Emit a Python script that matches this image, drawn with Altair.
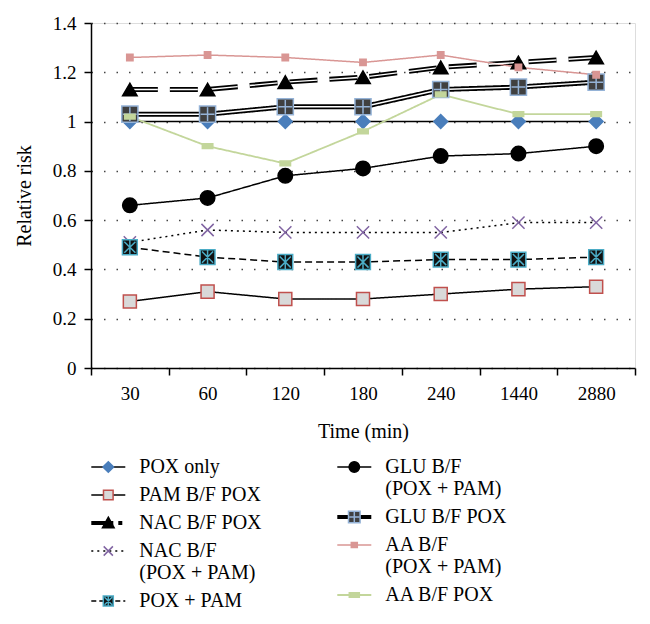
import altair as alt
import pandas as pd

# ---------------- data ----------------
times = ["30", "60", "120", "180", "240", "1440", "2880"]

pox_only = [1.00, 1.00, 1.00, 1.00, 1.00, 1.00, 1.00]
pam_bf_pox = [0.27, 0.31, 0.28, 0.28, 0.30, 0.32, 0.33]
nac_bf_pox = [1.13, 1.13, 1.16, 1.18, 1.22, 1.24, 1.26]
nac_bf_pox_pam = [0.51, 0.56, 0.55, 0.55, 0.55, 0.59, 0.59]
pox_pam = [0.49, 0.45, 0.43, 0.43, 0.44, 0.44, 0.45]
glu_bf_pox_pam = [0.66, 0.69, 0.78, 0.81, 0.86, 0.87, 0.90]
glu_bf_pox = [1.03, 1.03, 1.06, 1.06, 1.13, 1.14, 1.16]
aa_bf_pox_pam = [1.26, 1.27, 1.26, 1.24, 1.27, 1.22, 1.19]
aa_bf_pox = [1.02, 0.90, 0.83, 0.96, 1.11, 1.03, 1.03]

left_series = ["POX only", "PAM B/F POX", "NAC B/F POX", "NAC B/F|(POX + PAM)", "POX + PAM"]
right_series = ["GLU B/F|(POX + PAM)", "GLU B/F POX", "AA B/F|(POX + PAM)", "AA B/F POX"]
all_series = left_series + right_series
values = [pox_only, pam_bf_pox, nac_bf_pox, nac_bf_pox_pam, pox_pam,
          glu_bf_pox_pam, glu_bf_pox, aa_bf_pox_pam, aa_bf_pox]

rows = []
for s, vals in zip(all_series, values):
    for t, v in zip(times, vals):
        rows.append({"series": s, "time": t, "value": v})
df = pd.DataFrame(rows)

# ---------------- styles ----------------
PINK = "#d99694"
GREEN = "#c3d69b"
BLUE = "#4a7ebb"
line_colors = ["black", "black", "black", "black", "black", "black", "black", PINK, GREEN]
line_dashes = [[1, 0], [1, 0], [28, 12], [2, 4], [7, 4], [1, 0], [1, 0], [1, 0], [1, 0]]
line_widths = [1.5, 1.5, 5, 1.5, 1.5, 1.5, 5, 1.5, 1.8]

X_PATH = "M-1,-1L1,1M-1,1L1,-1"
AST_PATH = "M-1,-1H1V1H-1Z M-0.75,-0.75L0.75,0.75 M-0.75,0.75L0.75,-0.75 M0,-0.9V0.9"
PLUS_PATH = "M-1,-1H1V1H-1Z M0,-0.85V0.85 M-0.85,0H0.85"
RECT_PATH = "M-1,-0.45H1V0.45H-1Z"
marker_shapes = ["diamond", "square", "triangle-up", X_PATH, AST_PATH,
                 "circle", PLUS_PATH, "square", RECT_PATH]
marker_sizes = [190, 170, 210, 150, 220, 210, 260, 40, 110]
marker_fills = [BLUE, "#d9d9d9", "black", "transparent", "#111111",
                "black", "#404040", PINK, GREEN]
marker_strokes = [BLUE, "#c0504d", "black", "#8064a2", "#4bacc6",
                  "black", "#95b3d7", PINK, GREEN]

# ---------------- legend symbols ----------------
# all legend symbols share one nominal size so the line legend and the marker
# legend drawn over it have identical layouts; shapes are sized via their paths
LEG_SIZE = 130
LEG_HALF = (LEG_SIZE ** 0.5) / 2
LINE_HALF_LEN = 17.0


def u(v):
    return f"{v / LEG_HALF:.4f}"


line_path = f"M{u(-LINE_HALF_LEN)},0H{u(LINE_HALF_LEN)}"
leg_line_dashes = [[1, 0], [1, 0], [22, 5, 4, 5], [2, 4], [5, 3], [1, 0], [1, 0], [1, 0], [1, 0]]
leg_line_widths = [1.5, 1.5, 4, 1.5, 1.5, 1.5, 4, 1.5, 2.2]


def diamond(r):
    return f"M0,{u(-r)}L{u(r)},0L0,{u(r)}L{u(-r)},0Z"


def rect(w, h):
    return f"M{u(-w)},{u(-h)}H{u(w)}V{u(h)}H{u(-w)}Z"


def triangle(r):
    return f"M0,{u(-r)}L{u(r)},{u(r * 0.8)}L{u(-r)},{u(r * 0.8)}Z"


def xcross(r):
    return f"M{u(-r)},{u(-r)}L{u(r)},{u(r)}M{u(-r)},{u(r)}L{u(r)},{u(-r)}"


def circle(r):
    return (f"M{u(-r)},0A{u(r)},{u(r)} 0 1,1 {u(r)},0"
            f"A{u(r)},{u(r)} 0 1,1 {u(-r)},0Z")


def asterisk(r):
    a = r * 0.75
    return (rect(r, r) + f" M{u(-a)},{u(-a)}L{u(a)},{u(a)}"
            f" M{u(-a)},{u(a)}L{u(a)},{u(-a)} M0,{u(-r * 0.9)}V{u(r * 0.9)}")


def plus(r):
    a = r * 0.85
    return rect(r, r) + f" M0,{u(-a)}V{u(a)} M{u(-a)},0H{u(a)}"


leg_marker_shapes = [
    diamond(5.3),
    rect(4.8, 4.8),
    triangle(5.8),
    xcross(4.6),
    asterisk(5.0),
    circle(5.2),
    plus(5.8),
    rect(3.0, 2.5),
    rect(5.0, 2.3),
]

FONT = "Liberation Serif"

# ---------------- base ----------------
base = alt.Chart(df).encode(
    x=alt.X(
        "time:N", sort=times,
        scale=alt.Scale(type="band", paddingInner=0, paddingOuter=0),
        axis=alt.Axis(title="Time (min)", labelAngle=0, tickBand="extent", grid=False,
                      domainColor="black", domainWidth=1.5, tickColor="black", tickWidth=1.5,
                      tickSize=7, labelPadding=9, labelFont=FONT, labelFontSize=19,
                      labelColor="black", titleFont=FONT, titleFontSize=20,
                      titleFontWeight="normal", titleColor="black", titlePadding=18),
    ),
    y=alt.Y(
        "value:Q",
        scale=alt.Scale(domain=[0, 1.4], nice=False, zero=True),
        axis=alt.Axis(title="Relative risk", values=[0, 0.2, 0.4, 0.6, 0.8, 1.0, 1.2, 1.4],
                      format=".1~f", grid=True, gridDash=[1.5, 11], gridColor="#444444",
                      gridWidth=1.4, domainColor="black", domainWidth=1.5, tickColor="black",
                      tickWidth=1.5, tickSize=7, labelPadding=8, labelFont=FONT,
                      labelFontSize=19, labelColor="black", titleFont=FONT, titleFontSize=20,
                      titleFontWeight="normal", titleColor="black", titlePadding=18),
    ),
)


def sc(domain, rng):
    return alt.Scale(type="ordinal", domain=domain, range=rng)


lines = base.mark_line().encode(
    stroke=alt.Stroke("series:N", scale=sc(all_series, line_colors), legend=None),
    strokeDash=alt.StrokeDash("series:N", scale=sc(all_series, line_dashes), legend=None),
    strokeWidth=alt.StrokeWidth("series:N", scale=sc(all_series, line_widths), legend=None),
)

inner_glu = base.transform_filter(alt.datum.series == "GLU B/F POX").mark_line(
    color="white", strokeWidth=1.4)
inner_nac = base.transform_filter(alt.datum.series == "NAC B/F POX").mark_line(
    color="white", strokeWidth=1.4, strokeDash=[28, 12])

points = base.mark_point(filled=True, opacity=1, strokeWidth=1.5).encode(
    shape=alt.Shape("series:N", scale=sc(all_series, marker_shapes), legend=None),
    fill=alt.Fill("series:N", scale=sc(all_series, marker_fills), legend=None),
    stroke=alt.Stroke("series:N", scale=sc(all_series, marker_strokes), legend=None),
    size=alt.Size("series:N", scale=sc(all_series, marker_sizes), legend=None),
)

# ---------------- legends ----------------
LEG_Y = 434


def leg(x, hide_labels=False):
    kw = dict(orient="none", legendX=x, legendY=LEG_Y, title=None,
              labelExpr="split(datum.label, '|')", labelFont=FONT, labelFontSize=20,
              labelColor="black", labelLimit=400, rowPadding=8,
              labelOffset=21, padding=0, symbolOpacity=1, symbolSize=LEG_SIZE)
    if hide_labels:
        kw["labelOpacity"] = 0
    return alt.Legend(**kw)


empty = base.transform_filter("datum.value < 0")


def idx(group):
    return [all_series.index(s) for s in group]


def line_legend(group, x):
    ii = idx(group)
    lg = leg(x)
    return empty.mark_point(filled=False, opacity=1).encode(
        shape=alt.Shape("series:N", scale=sc(group, [line_path for _ in ii]), legend=lg),
        stroke=alt.Stroke("series:N", scale=sc(group, [line_colors[i] for i in ii]), legend=lg),
        strokeDash=alt.StrokeDash("series:N", scale=sc(group, [leg_line_dashes[i] for i in ii]), legend=lg),
        strokeWidth=alt.StrokeWidth("series:N", scale=sc(group, [leg_line_widths[i] for i in ii]), legend=lg),
    )


def marker_legend(group, x):
    ii = idx(group)
    lg = leg(x, hide_labels=True)
    return empty.mark_point(filled=True, opacity=1, strokeWidth=1.3).encode(
        shape=alt.Shape("series:N", scale=sc(group, [leg_marker_shapes[i] for i in ii]), legend=lg),
        fill=alt.Fill("series:N", scale=sc(group, [marker_fills[i] for i in ii]), legend=lg),
        stroke=alt.Stroke("series:N", scale=sc(group, [marker_strokes[i] for i in ii]), legend=lg),
    )


LX = 1 + 17 - LEG_HALF - 5
RX = 247 + 17 - LEG_HALF - 5

chart = alt.layer(
    lines, inner_glu, inner_nac, points,
    line_legend(left_series, LX), marker_legend(left_series, LX),
    line_legend(right_series, RX), marker_legend(right_series, RX),
).resolve_scale(
    stroke="independent", strokeDash="independent", strokeWidth="independent",
    shape="independent", fill="independent", size="independent",
).properties(
    width=544, height=345,
    autosize=alt.AutoSizeParams(type="none"),
    padding={"left": 83, "top": 15, "right": 7, "bottom": 248},
).configure_view(stroke=None).configure(background="white")

chart.save("out.html", embed_options={"renderer": "svg", "actions": False})
